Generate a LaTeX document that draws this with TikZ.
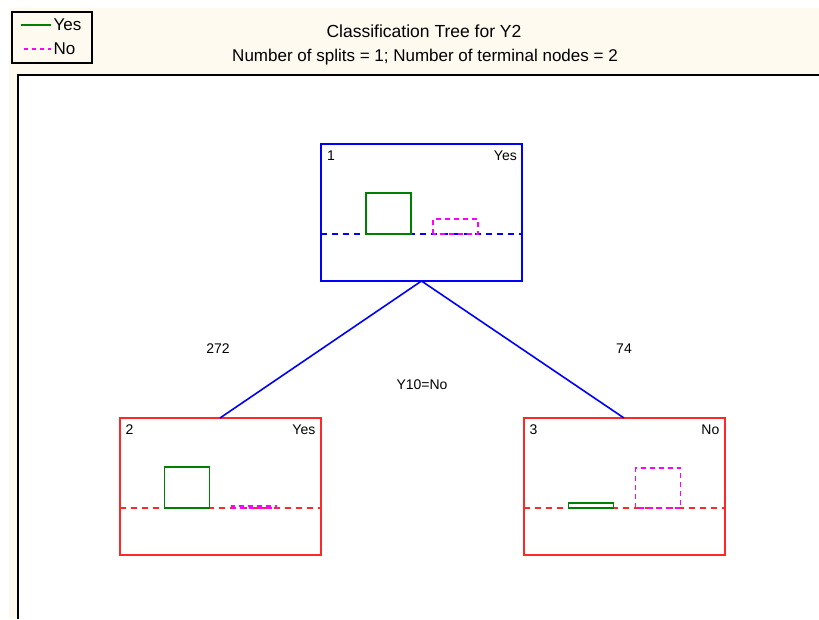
\documentclass[tikz,border=0pt]{standalone}
\usepackage{fontspec}
\setmainfont{Liberation Sans}
\usetikzlibrary{positioning}

\definecolor{paper}{RGB}{255,250,240}
\definecolor{yesgreen}{RGB}{0,128,0}
\definecolor{nomagenta}{RGB}{255,0,255}
\definecolor{leafred}{RGB}{255,40,40}

\tikzset{
  treebox/.style={rectangle, line width=2pt, minimum width=201pt, minimum height=137pt,
    inner sep=0pt, outer sep=0pt, fill=white},
  splitbox/.style={treebox, draw=blue},
  leafbox/.style={treebox, draw=leafred},
  boxtext/.style={font=\fontsize{14}{16}\selectfont, inner sep=0pt},
  yesbar/.style={draw=yesgreen, line width=1.6pt},
  nobar/.style={draw=nomagenta, line width=1.6pt, dash pattern=on 5pt off 4pt},
  base/.style={line width=1.6pt, dash pattern=on 6pt off 5pt}
}

% class bars: node, green height, magenta height, baseline colour
\newcommand{\classbars}[4]{%
  \begin{scope}[shift={(#1.north west)}]
    \draw[base, #4] (0,90) -- (201,90);
    \draw[yesbar] (45,90) rectangle (90,{90-#2});
    \draw[nobar] (112,90) rectangle (157,{90-#3});
  \end{scope}}

\begin{document}
\begin{tikzpicture}[x=1pt, y=-1pt]
  \useasboundingbox (0,0) rectangle (819,619);
  \fill[white] (0,0) rectangle (819,619);
  \fill[paper] (9,8) rectangle (819,619);
  \fill[white] (18,75) rectangle (819,619);
  \draw[line width=2pt] (18,619) -- (18,75) -- (819,75);

  % legend
  \draw[line width=2.2pt, fill=paper] (12,12) rectangle (92,63);
  \coordinate (lyes) at (21,25);
  \coordinate (lno) at (24,49);
  \draw[yesgreen, line width=1.4pt] (lyes) -- ++(30,0)
    node[right=1pt, text=black, font=\fontsize{17}{19}\selectfont, inner sep=1pt] (lyestext) {Yes};
  \draw[nomagenta, line width=1.4pt, dash pattern=on 4pt off 4pt] (lno) -- ++(27,0)
    node[right=1pt, text=black, font=\fontsize{17}{19}\selectfont, inner sep=1pt] (lnotext) {No};

  % titles
  \node[font=\fontsize{17.5}{19}\selectfont] (title) at (424,31) {Classification Tree for Y2};
  \node[font=\fontsize{17}{19}\selectfont] (subtitle) at (425,57)
    {Number of splits = 1; Number of terminal nodes = 2};

  % tree
  \node[splitbox] (n1) at (421.5,212.5) {};
  \node[leafbox] (n2) at (220,486.5) {};
  \node[leafbox] (n3) at (624,486.5) {};

  \draw[blue, line width=1.6pt] (n1.south) -- (n2.north);
  \draw[blue, line width=1.6pt] (n1.south) -- (n3.north);

  \classbars{n1}{41}{15}{blue}
  \classbars{n2}{41}{2}{leafred}
  \classbars{n3}{5}{40}{leafred}

  \node[boxtext, anchor=west] (n1id) at ([shift={(6,12)}]n1.north west) {1};
  \node[boxtext, anchor=east] (n1cls) at ([shift={(-5,12)}]n1.north east) {Yes};
  \node[boxtext, anchor=west] (n2id) at ([shift={(6,12)}]n2.north west) {2};
  \node[boxtext, anchor=east] (n2cls) at ([shift={(-5,12)}]n2.north east) {Yes};
  \node[boxtext, anchor=west] (n3id) at ([shift={(6,12)}]n3.north west) {3};
  \node[boxtext, anchor=east] (n3cls) at ([shift={(-5,12)}]n3.north east) {No};

  \node[font=\fontsize{14}{16}\selectfont] (cnt2) at (218,349) {272};
  \node[font=\fontsize{14}{16}\selectfont] (cnt3) at (624,349) {74};
  \node[font=\fontsize{14}{16}\selectfont] (split) at (422,385) {Y10=No};
\end{tikzpicture}
\end{document}
